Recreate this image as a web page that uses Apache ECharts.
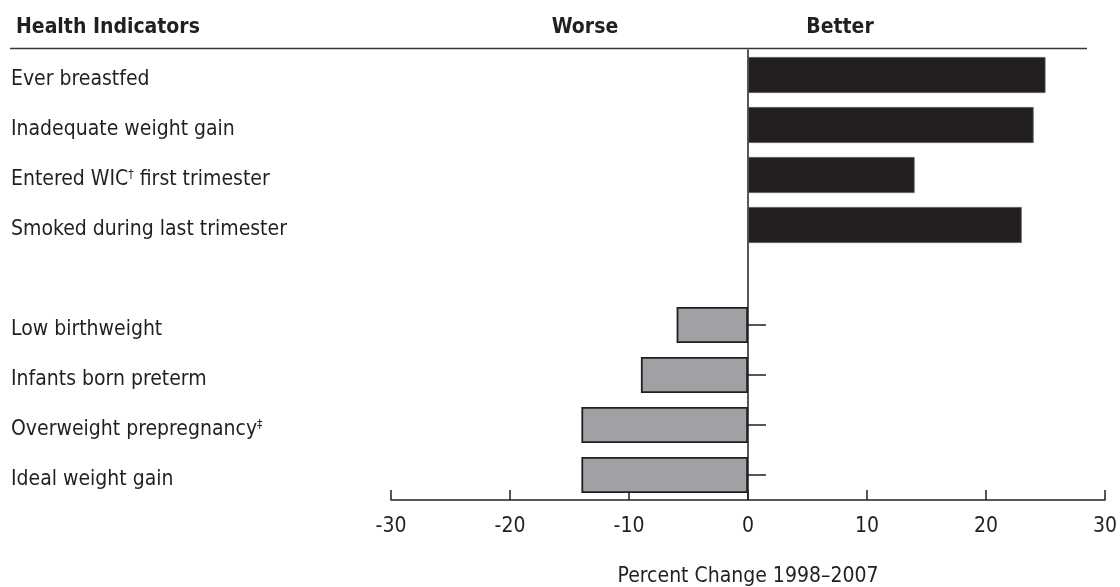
<!DOCTYPE html>
<html>
<head>
<meta charset="utf-8">
<script src="https://cdn.jsdelivr.net/npm/echarts@6/dist/echarts.min.js"></script>
<style>
html,body{margin:0;padding:0;background:#fff;}
#chart{width:1120px;height:587px;}
</style>
</head>
<body>
<div id="chart"></div>
<script>
const categories = [
  'Ever breastfed',
  'Inadequate weight gain',
  'Entered WIC{sup|†} first trimester',
  'Smoked during last trimester',
  '',
  'Low birthweight',
  'Infants born preterm',
  'Overweight prepregnancy{sup|‡}',
  'Ideal weight gain'
];
const betterValues = [25, 24, 14, 23, null, null, null, null, null];
const worseValues = [null, null, null, null, null, -6, -9, -14, -14];
const tickedRows = [5, 6, 7, 8];
const xTicks = { min: -30, max: 30, interval: 10 };
const headerLeft = 'Health Indicators';
const headerWorse = 'Worse';
const headerBetter = 'Better';
const xAxisName = 'Percent Change 1998\u20132007';

const FONT = '"Liberation Sans Narrow", "DejaVu Sans Condensed", "Liberation Sans", sans-serif';
const INK = '#231f20';

const chart = echarts.init(document.getElementById('chart'), null, { renderer: 'canvas' });
chart.setOption({
  animation: false,
  backgroundColor: '#ffffff',
  textStyle: { fontFamily: FONT, color: INK },
  grid: { left: 391, right: 15, top: 50, bottom: 87, containLabel: false, outerBoundsMode: 'none' },
  title: [
    { text: headerLeft, left: 11, top: 12, textStyle: { fontFamily: FONT, fontSize: 21, fontWeight: 'bold', color: INK } },
    { text: headerWorse, left: 580, top: 12, textAlign: 'center', textStyle: { fontFamily: FONT, fontSize: 21, fontWeight: 'bold', color: INK } },
    { text: headerBetter, left: 835, top: 12, textAlign: 'center', textStyle: { fontFamily: FONT, fontSize: 21, fontWeight: 'bold', color: INK } }
  ],
  graphic: [
    { type: 'line', shape: { x1: 10, y1: 48.5, x2: 1087, y2: 48.5 }, style: { stroke: '#3a3637', lineWidth: 1.5 } }
  ],
  xAxis: {
    type: 'value',
    min: xTicks.min, max: xTicks.max, interval: xTicks.interval,
    name: xAxisName,
    nameLocation: 'middle',
    nameGap: 66,
    nameTextStyle: { fontFamily: FONT, fontSize: 21, color: INK },
    axisLine: { show: true, onZero: false, lineStyle: { color: INK, width: 1.5 } },
    axisTick: { show: true, inside: true, length: 10, lineStyle: { color: INK, width: 1.5 } },
    axisLabel: { fontFamily: FONT, fontSize: 21, color: INK, margin: 16 },
    splitLine: { show: false }
  },
  yAxis: [
    {
      type: 'category',
      inverse: true,
      data: categories,
      axisLine: { show: true, onZero: true, lineStyle: { color: INK, width: 1.5 } },
      axisTick: {
        show: true, inside: true, length: 18, alignWithLabel: true,
        interval: function (idx) { return tickedRows.indexOf(idx) >= 0; },
        lineStyle: { color: INK, width: 1.5 }
      },
      axisLabel: { show: false },
      splitLine: { show: false }
    },
    {
      type: 'category',
      inverse: true,
      position: 'left',
      offset: 0,
      data: categories,
      axisLine: { show: false, onZero: false },
      axisTick: { show: false },
      axisLabel: {
        align: 'left', margin: 380, interval: 0, hideOverlap: false,
        padding: [10, 0, 0, 0],
        fontFamily: FONT, fontSize: 21, color: INK,
        rich: { sup: { fontFamily: FONT, fontSize: 12, color: INK, verticalAlign: 'top', padding: [0, 0, 10, 0] } }
      },
      splitLine: { show: false }
    }
  ],
  series: [
    {
      name: 'Better', type: 'bar', stack: 'all', barWidth: 36,
      data: betterValues,
      itemStyle: { color: INK, borderColor: '#555', borderWidth: 0.8 }
    },
    {
      name: 'Worse', type: 'bar', stack: 'all', barWidth: 36,
      data: worseValues,
      itemStyle: { color: '#a0a1a5', borderColor: INK, borderWidth: 1.8 }
    }
  ]
});
</script>
</body>
</html>
